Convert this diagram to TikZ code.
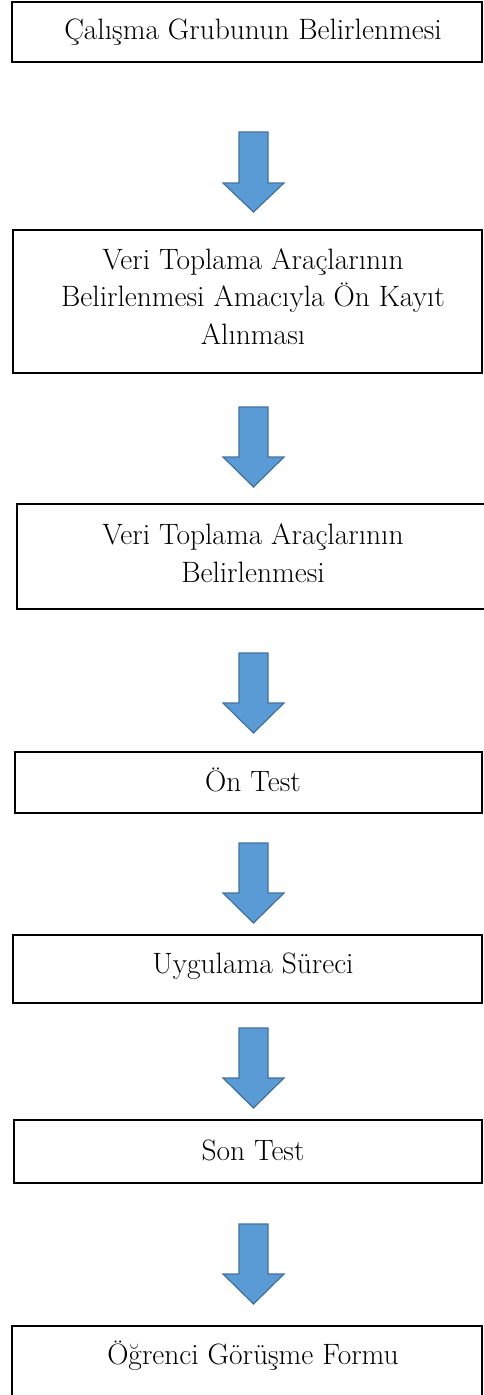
\documentclass[tikz,border=0pt]{standalone}
\usepackage{fontspec}
\begin{document}
\begin{tikzpicture}[x=0.75pt,y=0.75pt,yscale=-1,xscale=1,
  box/.style={draw=black, line width=1.3pt},
  lbl/.style={font=\fontsize{22.1}{28}\selectfont, align=center, inner sep=0pt, anchor=base},
  blockarrow/.style={fill={rgb, 255:red, 91; green, 155; blue, 213}, draw={rgb, 255:red, 65; green, 113; blue, 156}, line width=0.9pt, line join=miter}]
\useasboundingbox (0,0) rectangle (484,1395);
\clip (0,0) rectangle (484,1395);

%Shape: Rectangle
\draw [box] (12,2) rectangle (482,62) ;
%Shape: Down Arrow
\draw [blockarrow] (239,132) -- (268,132) -- (268,183) -- (284,183) -- (253.5,212) -- (223,183) -- (239,183) -- cycle ;

%Shape: Rectangle
\draw [box] (13,230) rectangle (482,373) ;
%Shape: Down Arrow
\draw [blockarrow] (239,407) -- (268,407) -- (268,457) -- (284,457) -- (253.5,487) -- (223,457) -- (239,457) -- cycle ;

%Shape: Rectangle
\draw [box] (17,504) rectangle (490,609) ;
%Shape: Down Arrow
\draw [blockarrow] (239,653) -- (268,653) -- (268,703) -- (284,703) -- (253.5,733) -- (223,703) -- (239,703) -- cycle ;

%Shape: Rectangle
\draw [box] (15,752) rectangle (482,813) ;
%Shape: Down Arrow
\draw [blockarrow] (239,843) -- (268,843) -- (268,893) -- (284,893) -- (253.5,923) -- (223,893) -- (239,893) -- cycle ;

%Shape: Rectangle
\draw [box] (13,935) rectangle (482,1003) ;
%Shape: Down Arrow
\draw [blockarrow] (239,1028) -- (268,1028) -- (268,1078) -- (284,1078) -- (253.5,1108) -- (223,1078) -- (239,1078) -- cycle ;

%Shape: Rectangle
\draw [box] (14,1120) rectangle (482,1183) ;
%Shape: Down Arrow
\draw [blockarrow] (239,1224) -- (268,1224) -- (268,1274) -- (284,1274) -- (253.5,1304) -- (223,1274) -- (239,1274) -- cycle ;

%Shape: Rectangle
\draw [box] (12,1326) rectangle (482,1405) ;

% Text Node
\node [lbl] (grup) at (253,40) {Çalışma Grubunun Belirlenmesi};
% Text Node
\node [lbl] (onkayit) at (253,344) {Veri Toplama Araçlarının\\Belirlenmesi Amacıyla Ön Kayıt\\Alınması};
% Text Node
\node [lbl] (araclar) at (253,582) {Veri Toplama Araçlarının\\Belirlenmesi};
% Text Node
\node [lbl] (ontest) at (253,791) {Ön Test};
% Text Node
\node [lbl] (uygulama) at (253,973) {Uygulama Süreci};
% Text Node
\node [lbl] (sontest) at (253,1160) {Son Test};
% Text Node
\node [lbl] (gorusme) at (253,1364) {Öğrenci Görüşme Formu};

\end{tikzpicture}
\end{document}
